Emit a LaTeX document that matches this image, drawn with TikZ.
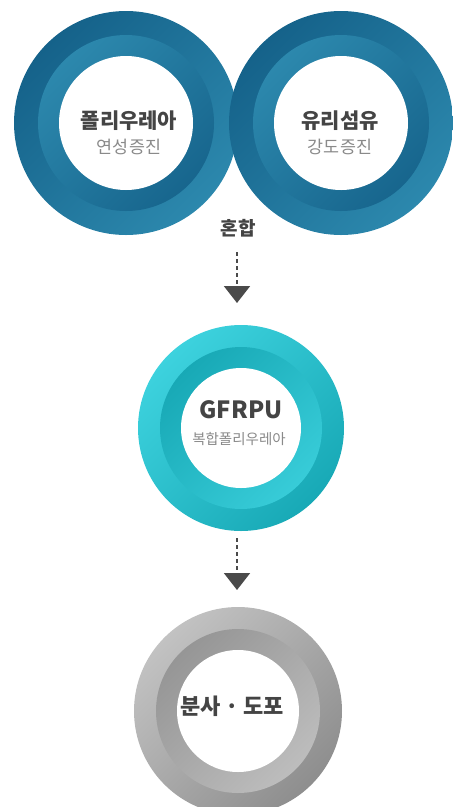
\documentclass[tikz,border=0pt]{standalone}
\usepackage{fontspec}
\newfontfamily\kr{Noto Sans CJK KR}
\usetikzlibrary{arrows.meta}

\definecolor{bluedark}{HTML}{15628A}
\definecolor{bluelight}{HTML}{2C88AD}
\definecolor{tealdark}{HTML}{18A9B6}
\definecolor{teallight}{HTML}{3DD2DE}
\definecolor{greydark}{HTML}{8E8E8E}
\definecolor{greylight}{HTML}{C2C2C2}
\definecolor{txtdark}{HTML}{444444}
\definecolor{txtgray}{HTML}{8A8A8A}
\definecolor{arrowgray}{HTML}{4A4A4A}

\tikzset{
  disc/.style={circle, inner sep=0pt, minimum size=#1},
  hole/.style={disc=#1, fill=white},
  title/.style={font=\kr\bfseries\fontsize{21}{24}\selectfont, text=txtdark},
  subtitle/.style={font=\kr\fontsize{17.4}{20}\selectfont, text=txtgray},
  flow/.style={draw=arrowgray, line width=2pt, dash pattern=on 4pt off 3pt,
    -{Triangle[width=26pt,length=17pt]}},
}

\begin{document}
\begin{tikzpicture}[x=1pt,y=-1pt]
      \useasboundingbox (0,0) rectangle (453,807);
      % polyurea
      \node[disc=224pt, top color=bluedark, bottom color=bluelight, shading angle=45] (pu) at (126,123) {};
      \node[disc=176pt, top color=bluelight, bottom color=bluedark!90!bluelight, shading angle=45] (puring) at (pu) {};
      \node[hole=134pt] (puin) at (pu) {};
      % glass fibre
      \node[disc=224pt, top color=bluedark, bottom color=bluelight, shading angle=45] (gf) at (341,123) {};
      \node[disc=176pt, top color=bluelight, bottom color=bluedark!90!bluelight, shading angle=45] (gfring) at (gf) {};
      \node[hole=134pt] (gfin) at (gf) {};
      \node[title]    (putitle) at (129,121) {폴리우레아};
      \node[subtitle] (pusub)   at (129,147) {연성증진};
      \node[title]    (gftitle) at (340,121) {유리섬유};
      \node[subtitle] (gfsub)   at (340,147) {강도증진};
      \node[title, font=\kr\bfseries\fontsize{19}{22}\selectfont] (mix) at (238,228) {혼합};
      % GFRPU
      \node[disc=206pt, top color=teallight, bottom color=tealdark, shading angle=45] (gfrpu) at (241,428) {};
      \node[disc=162pt, top color=tealdark, bottom color=teallight!85!tealdark, shading angle=45] (gfrpuring) at (gfrpu) {};
      \node[hole=120pt] (gfrpuin) at (gfrpu) {};
      \node[title, font=\kr\bfseries\fontsize{23.7}{26}\selectfont] (gfrputitle) at (241,410) {GFRPU};
      \node[subtitle, font=\kr\fontsize{14.5}{17}\selectfont] (gfrpusub) at (239,439) {복합폴리우레아};
      % spray / coating
      \node[disc=208pt, top color=greylight, bottom color=greydark, shading angle=45] (spray) at (238,711) {};
      \node[disc=164pt, top color=greydark!85!greylight, bottom color=greylight!90!greydark, shading angle=45] (sprayring) at (spray) {};
      \node[hole=122pt] (sprayin) at (spray) {};
      \node[title, font=\kr\bfseries\fontsize{22}{25}\selectfont] (spraytitle) at (232,706) {분사\hspace{0.2em}·\hspace{0.2em}도포};
      % arrows
      \coordinate (a1) at (237,252);
      \coordinate (b1) at (237,303);
      \coordinate (a2) at (237,538);
      \coordinate (b2) at (237,590);
      \draw[flow] (a1) -- (b1);
      \draw[flow] (a2) -- (b2);
    \end{tikzpicture}
\end{document}
